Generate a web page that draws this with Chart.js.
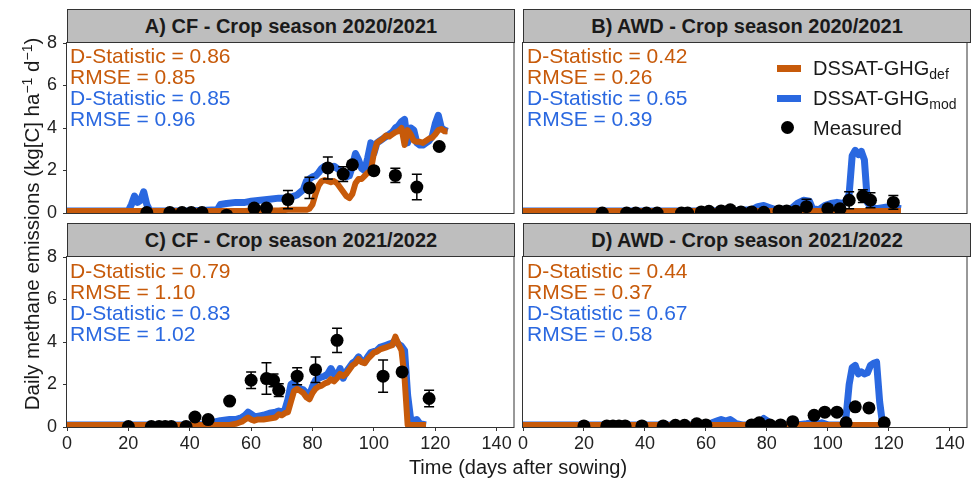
<!DOCTYPE html>
<html>
<head>
<meta charset="utf-8">
<script src="https://cdn.jsdelivr.net/npm/chart.js@4.4.1/dist/chart.umd.min.js"></script>
<style>
  body { margin: 0; width: 973px; height: 481px; background: #fff; position: relative; overflow: hidden;
         font-family: "Liberation Sans", Arial, sans-serif; color: #1a1a1a; }
  canvas { position: absolute; }
  .strip { position: absolute; box-sizing: border-box; height: 34px; background: #bebebe; border: 1px solid #333;
           font-weight: bold; font-size: 20px; line-height: 32px; text-align: center; }
  .stats { position: absolute; font-size: 21px; line-height: 21px; white-space: nowrap; }
  .def { color: #c75a0a; }
  .mod { color: #2a68e0; }
  .key { position: absolute; left: 777px; width: 24px; height: 7px; }
  .dot { position: absolute; left: 781px; top: 121px; width: 13px; height: 13px; border-radius: 50%; background: #000; }
  .leg { position: absolute; left: 813px; font-size: 20px; line-height: 24px; white-space: nowrap; }
  .leg sub { font-size: 14px; vertical-align: -4px; line-height: 0; }
  .ytitle { position: absolute; left: -188.5px; top: 212px; width: 440px; height: 24px; line-height: 24px;
            font-size: 20.5px; text-align: center; transform: rotate(-90deg); white-space: nowrap; }
  .ytitle sup { font-size: 14px; vertical-align: 7px; line-height: 0; }
  .xtitle { position: absolute; left: 318px; top: 455px; width: 400px; line-height: 24px; font-size: 20px; text-align: center; }
</style>
</head>
<body>
<div class="strip" style="left:67px;top:9px;width:448px">A) CF - Crop season 2020/2021</div>
<div class="strip" style="left:523px;top:9px;width:448px">B) AWD - Crop season 2020/2021</div>
<div class="strip" style="left:67px;top:223px;width:448px">C) CF - Crop season 2021/2022</div>
<div class="strip" style="left:523px;top:223px;width:448px">D) AWD - Crop season 2021/2022</div>

<canvas id="panelA" width="520" height="204" style="left:0;top:26px"></canvas>
<canvas id="panelB" width="460" height="204" style="left:513px;top:26px"></canvas>
<canvas id="panelC" width="520" height="241" style="left:0;top:240px"></canvas>
<canvas id="panelD" width="460" height="241" style="left:513px;top:240px"></canvas>

<div class="stats" style="left:70px;top:44.5px">
  <div class="def">D-Statistic = 0.86</div><div class="def">RMSE = 0.85</div>
  <div class="mod">D-Statistic = 0.85</div><div class="mod">RMSE = 0.96</div>
</div>
<div class="stats" style="left:527px;top:44.5px">
  <div class="def">D-Statistic = 0.42</div><div class="def">RMSE = 0.26</div>
  <div class="mod">D-Statistic = 0.65</div><div class="mod">RMSE = 0.39</div>
</div>
<div class="stats" style="left:70px;top:259.5px">
  <div class="def">D-Statistic = 0.79</div><div class="def">RMSE = 1.10</div>
  <div class="mod">D-Statistic = 0.83</div><div class="mod">RMSE = 1.02</div>
</div>
<div class="stats" style="left:527px;top:259.5px">
  <div class="def">D-Statistic = 0.44</div><div class="def">RMSE = 0.37</div>
  <div class="mod">D-Statistic = 0.67</div><div class="mod">RMSE = 0.58</div>
</div>

<div class="key" style="top:65px;background:#c75a0a"></div>
<div class="key" style="top:94.5px;background:#2a68e0"></div>
<div class="dot"></div>
<div class="leg" style="top:56px">DSSAT-GHG<sub>def</sub></div>
<div class="leg" style="top:86px">DSSAT-GHG<sub>mod</sub></div>
<div class="leg" style="top:116px">Measured</div>

<div class="ytitle">Daily methane emissions (kg[C] ha<sup>−1</sup> d<sup>−1</sup>)</div>
<div class="xtitle">Time (days after sowing)</div>

<script>
const ORANGE = '#c75a0a';
const BLUE = '#2a68e0';

const xTicks = [0, 20, 40, 60, 80, 100, 120, 140];
const yTicks = [0, 2, 4, 6, 8];

// A) CF 2020/2021
const daysA = [0, 10, 20, 21, 22, 23, 24, 25, 26, 27, 30, 40, 49, 50, 52, 55, 58, 60, 63, 66, 69, 72, 75,
  77, 78, 79, 80, 81, 82, 83, 84, 85, 86, 87, 88, 89, 90, 91, 92, 93, 94, 95, 96, 97, 98, 99, 100,
  101, 102, 103, 104, 105, 106, 107, 108, 109, 110, 111, 112, 113, 114, 115, 116, 117, 118, 119, 120,
  121, 122, 123, 124];
const defA = [0.1, 0.1, 0.1, 0.1, 0.1, 0.1, 0.1, 0.1, 0.1, 0.1, 0.1, 0.1, 0.1, 0.1, 0.1, 0.1, 0.1, 0.12, 0.12, 0.12, 0.12, 0.15, 0.15,
  0.15, 0.15, 0.2, 0.4, 0.9, 1.3, 1.5, 1.55, 1.5, 1.45, 1.5, 1.4, 1.2, 1.0, 0.8, 0.7, 0.9, 1.4, 1.6, 1.6, 1.75, 1.9, 2.0, 2.8,
  3.3, 3.4, 3.5, 3.65, 3.6, 3.7, 3.8, 3.85, 4.0, 3.2, 3.9, 3.7, 3.4, 3.35, 3.35, 3.3, 3.4, 3.5, 3.55, 3.7,
  3.9, 3.95, 3.85, 3.85];
const modA = [0.1, 0.1, 0.1, 0.4, 0.8, 0.5, 0.6, 1.0, 0.4, 0.1, 0.1, 0.1, 0.15, 0.4, 0.45, 0.5, 0.5, 0.55, 0.6, 0.65, 0.7, 0.7, 0.85,
  1.1, 1.5, 1.6, 1.7, 1.75, 1.9, 2.1, 2.2, 2.15, 2.1, 2.2, 2.1, 2.0, 1.8, 1.7, 1.75, 2.2, 2.8, 2.5, 2.1, 2.0, 2.6, 3.3, 2.8,
  3.3, 3.4, 3.5, 3.6, 3.7, 3.8, 4.0, 4.1, 4.3, 4.4, 3.3, 4.0, 3.9, 3.3, 3.2, 3.2, 3.3, 3.4, 3.6, 4.2,
  4.6, 4.0, 3.9, 3.85];
const obsDaysA = [26, 33.5, 37.5, 40.5, 44, 52, 61, 65, 72, 79, 85, 90, 93, 100, 107, 114, 121.3];
const obsA = [0.02, 0.02, 0.02, 0.02, 0.02, -0.1, 0.23, 0.23, 0.63, 1.18, 2.12, 1.83, 2.27, 1.99, 1.77, 1.22, 3.13];
const errA = [0, 0, 0, 0, 0, 0.1, 0, 0, 0.43, 0.5, 0.52, 0.35, 0, 0.15, 0.34, 0.6, 0];

// B) AWD 2020/2021
const daysB = [0, 10, 20, 30, 40, 50, 60, 70, 75, 77, 79, 81, 83, 88, 90, 92, 94, 95, 97, 99, 101, 103, 105,
  106, 107, 108, 109, 110, 111, 112, 113, 114, 116, 118, 120, 122, 124];
const defB = [0.1, 0.1, 0.1, 0.1, 0.1, 0.1, 0.1, 0.1, 0.1, 0.1, 0.1, 0.1, 0.1, 0.1, 0.1, 0.1, 0.1, 0.1, 0.1, 0.1, 0.1, 0.1, 0.1,
  0.1, 0.1, 0.1, 0.1, 0.1, 0.1, 0.1, 0.1, 0.1, 0.1, 0.1, 0.1, 0.1, 0.1];
const modB = [0.1, 0.1, 0.1, 0.1, 0.1, 0.1, 0.1, 0.12, 0.15, 0.3, 0.35, 0.25, 0.15, 0.2, 0.45, 0.6, 0.55, 0.2, 0.15, 0.35, 0.45, 0.5, 0.45,
  0.55, 0.9, 2.7, 2.95, 2.75, 2.9, 2.5, 0.5, 0.3, 0.2, 0.25, 0.3, 0.25, 0.2];
const obsDaysB = [26, 34, 37, 40.5, 44, 52, 54, 58.5, 61, 65, 68, 71.5, 75, 79, 84, 86.5, 89.5, 93, 100, 104, 107, 111.5, 114, 121.5];
const obsB = [0, 0, 0, 0, 0, 0, 0, 0.05, 0.08, 0.1, 0.15, 0.05, 0.05, 0.03, 0.1, 0.1, 0.08, 0.3, 0.2, 0.2, 0.6, 0.8, 0.6, 0.5];
const errB = [0, 0, 0, 0, 0, 0, 0, 0, 0, 0, 0, 0, 0, 0, 0, 0, 0, 0.35, 0, 0, 0.4, 0.3, 0.35, 0.32];

// C) CF 2021/2022
const daysC = [0, 10, 20, 30, 40, 45, 47, 50, 53, 55, 56, 57, 58, 59, 60, 61, 62, 64, 66, 68,
  69, 70, 71, 72, 73, 74, 75, 76, 77, 78, 79, 80, 81, 82, 83, 84, 85, 86, 87, 88, 89, 90, 91, 92,
  93, 94, 95, 96, 97, 98, 99, 100, 101, 102, 103, 104, 105, 106, 107, 108, 109, 110, 111, 112, 113, 114, 115, 117];
const defC = [0.1, 0.1, 0.1, 0.1, 0.1, 0.1, 0.1, 0.1, 0.1, 0.15, 0.2, 0.25, 0.35, 0.45, 0.35, 0.3, 0.35, 0.35, 0.4, 0.45,
  0.6, 0.55, 0.65, 0.7, 1.2, 1.7, 1.8, 1.7, 1.6, 1.4, 1.3, 1.6, 1.8, 1.9, 1.95, 2.05, 2.1, 2.25, 2.15, 2.3, 2.5, 2.4, 2.5, 2.7,
  2.9, 3.0, 3.2, 3.05, 3.0, 3.2, 3.35, 3.5, 3.55, 3.65, 3.7, 3.75, 3.8, 3.85, 4.25, 3.9, 3.6, 2.3, 0.1, 0.1, 0.1, 0.1, 0.1, 0.1];
const modC = [0.1, 0.1, 0.1, 0.1, 0.1, 0.12, 0.2, 0.3, 0.35, 0.35, 0.4, 0.45, 0.55, 0.7, 0.6, 0.5, 0.5, 0.55, 0.65, 0.7,
  0.75, 0.7, 0.8, 1.3, 2.0, 2.1, 1.9, 1.8, 1.75, 1.6, 1.5, 1.9, 2.2, 2.3, 2.35, 2.4, 2.5, 2.75, 2.5, 2.4, 2.75, 2.3, 2.6, 2.8,
  3.0, 3.1, 3.3, 3.1, 3.05, 3.3, 3.5, 3.55, 3.6, 3.75, 3.8, 3.85, 3.9, 3.95, 4.1, 3.9, 3.8, 3.6, 1.5, 0.35, 0.3, 0.35, 0.15, 0.1];
const obsDaysC = [20, 27.5, 30, 32, 34, 38.8, 41.7, 46, 53, 60, 65, 67.3, 69, 75, 81, 88, 103, 109.2, 118];
const obsC = [0.02, 0.02, 0.02, 0.02, 0.02, 0.02, 0.47, 0.35, 1.22, 2.2, 2.28, 2.2, 1.73, 2.39, 2.7, 4.08, 2.39, 2.59, 1.34];
const errC = [0, 0, 0, 0, 0, 0, 0, 0, 0, 0.39, 0.74, 0.3, 0.3, 0.4, 0.6, 0.57, 0.76, 0.1, 0.39];

// D) AWD 2021/2022
const daysD = [0, 10, 20, 30, 40, 50, 58, 60, 62, 64, 65, 66, 67, 68, 69, 70, 72, 76, 78, 79, 80, 82, 85, 90,
  93, 95, 97, 98, 100, 103, 105, 106, 107, 108, 109, 110, 111, 112, 113, 114, 115, 116, 117, 118];
const defD = [0.1, 0.1, 0.1, 0.1, 0.1, 0.1, 0.1, 0.1, 0.1, 0.1, 0.1, 0.1, 0.1, 0.1, 0.1, 0.1, 0.1, 0.1, 0.1, 0.1, 0.1, 0.1, 0.1, 0.1,
  0.1, 0.1, 0.1, 0.1, 0.1, 0.1, 0.1, 0.1, 0.1, 0.1, 0.1, 0.1, 0.1, 0.1, 0.1, 0.1, 0.1, 0.1, 0.1, 0.1];
const modD = [0.1, 0.1, 0.1, 0.1, 0.1, 0.1, 0.1, 0.12, 0.2, 0.3, 0.35, 0.3, 0.3, 0.35, 0.25, 0.15, 0.1, 0.1, 0.25, 0.4, 0.3, 0.1, 0.1, 0.1,
  0.15, 0.2, 0.15, 0.2, 0.1, 0.1, 0.1, 0.5, 2.0, 2.8, 2.9, 2.5, 2.6, 2.5, 2.55, 2.9, 3.0, 3.05, 1.2, 0.1];
const obsDaysD = [20, 27.5, 29.5, 31.5, 33.5, 39, 46, 50, 53, 57, 60, 75, 77.5, 81, 84.5, 88.5, 95.5, 99, 103, 106, 109, 113.5, 118.5];
const obsD = [0.05, 0.05, 0.05, 0.05, 0.05, 0.05, 0.05, 0.08, 0.08, 0.15, 0.1, 0.1, 0.2, 0.1, 0.1, 0.25, 0.55, 0.7, 0.7, 0.2, 0.95, 0.9, 0.2];
const errD = obsD.map(() => 0);

const toXY = (xs, ys) => xs.map((x, i) => ({ x, y: ys[i] }));

// whiskers under the measured points
const errorBars = {
  id: 'errorBars',
  beforeDatasetDraw(chart, args) {
    const ds = chart.data.datasets[args.index];
    if (!ds.errors) return;
    const { ctx, chartArea, scales: { x, y } } = chart;
    ctx.save();
    ctx.beginPath();
    ctx.rect(chartArea.left, chartArea.top, chartArea.width, chartArea.height);
    ctx.clip();
    ctx.strokeStyle = '#000';
    ctx.lineWidth = 1.5;
    ds.data.forEach((p, i) => {
      const e = ds.errors[i];
      if (!e) return;
      const px = x.getPixelForValue(p.x);
      const top = y.getPixelForValue(p.y + e);
      const bot = y.getPixelForValue(p.y - e);
      ctx.beginPath();
      ctx.moveTo(px, top); ctx.lineTo(px, bot);
      ctx.moveTo(px - 5, top); ctx.lineTo(px + 5, top);
      ctx.moveTo(px - 5, bot); ctx.lineTo(px + 5, bot);
      ctx.stroke();
    });
    ctx.restore();
  }
};

const panelBorder = {
  id: 'panelBorder',
  afterDraw(chart) {
    const { ctx, chartArea: a } = chart;
    ctx.save();
    ctx.strokeStyle = '#333';
    ctx.lineWidth = 1;
    ctx.strokeRect(a.left - 0.5, a.top - 0.5, a.width + 1, a.height + 1);
    ctx.restore();
  }
};

const tickFont = { family: '"Liberation Sans", Arial, sans-serif', size: 18 };

function makePanel(id, days, def, mod, obsDays, obs, err, opts) {
  return new Chart(document.getElementById(id), {
    type: 'scatter',
    data: {
      datasets: [
        { label: 'Measured', data: toXY(obsDays, obs), errors: err, pointRadius: 6.5, pointHoverRadius: 6.5,
          backgroundColor: '#000', borderWidth: 0, clip: 0 },
        { label: 'DSSAT-GHG def', data: toXY(days, def), showLine: true, borderColor: ORANGE, borderWidth: 6,
          pointRadius: 0, borderJoinStyle: 'round', tension: 0, clip: 0 },
        { label: 'DSSAT-GHG mod', data: toXY(days, mod), showLine: true, borderColor: BLUE, borderWidth: 7,
          pointRadius: 0, borderJoinStyle: 'round', tension: 0, clip: 0 }
      ]
    },
    options: {
      responsive: false,
      animation: false,
      devicePixelRatio: 1,
      events: [],
      layout: { padding: opts.padding },
      plugins: { legend: { display: false }, tooltip: { enabled: false } },
      scales: {
        x: {
          type: 'linear', min: 0, max: 145.5, display: opts.showX,
          afterBuildTicks: s => { s.ticks = xTicks.map(v => ({ value: v })); },
          afterFit: s => { if (opts.showX) s.height = 30; },
          grid: { drawOnChartArea: false, drawTicks: true, tickLength: 4, color: '#333' },
          border: { display: false },
          ticks: { font: tickFont, color: '#222', padding: 2, maxRotation: 0 }
        },
        y: {
          type: 'linear', min: 0, max: 8, display: opts.showY,
          afterBuildTicks: s => { s.ticks = yTicks.map(v => ({ value: v })); },
          afterFit: s => { if (opts.showY) s.width = 67; },
          grid: { drawOnChartArea: false, drawTicks: true, tickLength: 4, color: '#333' },
          border: { display: false },
          ticks: { font: tickFont, color: '#222', padding: 6 }
        }
      }
    },
    plugins: [errorBars, panelBorder]
  });
}

// plot areas: columns 67-514 / 523-970, rows 43-213 / 257-427
makePanel('panelA', daysA, defA, modA, obsDaysA, obsA, errA,
  { showX: false, showY: true, padding: { top: 17, right: 6, bottom: 17, left: 0 } });
makePanel('panelB', daysB, defB, modB, obsDaysB, obsB, errB,
  { showX: false, showY: false, padding: { top: 17, right: 3, bottom: 17, left: 10 } });
makePanel('panelC', daysC, defC, modC, obsDaysC, obsC, errC,
  { showX: true, showY: true, padding: { top: 17, right: 6, bottom: 24, left: 0 } });
makePanel('panelD', daysD, defD, modD, obsDaysD, obsD, errD,
  { showX: true, showY: false, padding: { top: 17, right: 3, bottom: 24, left: 10 } });
</script>
</body>
</html>
